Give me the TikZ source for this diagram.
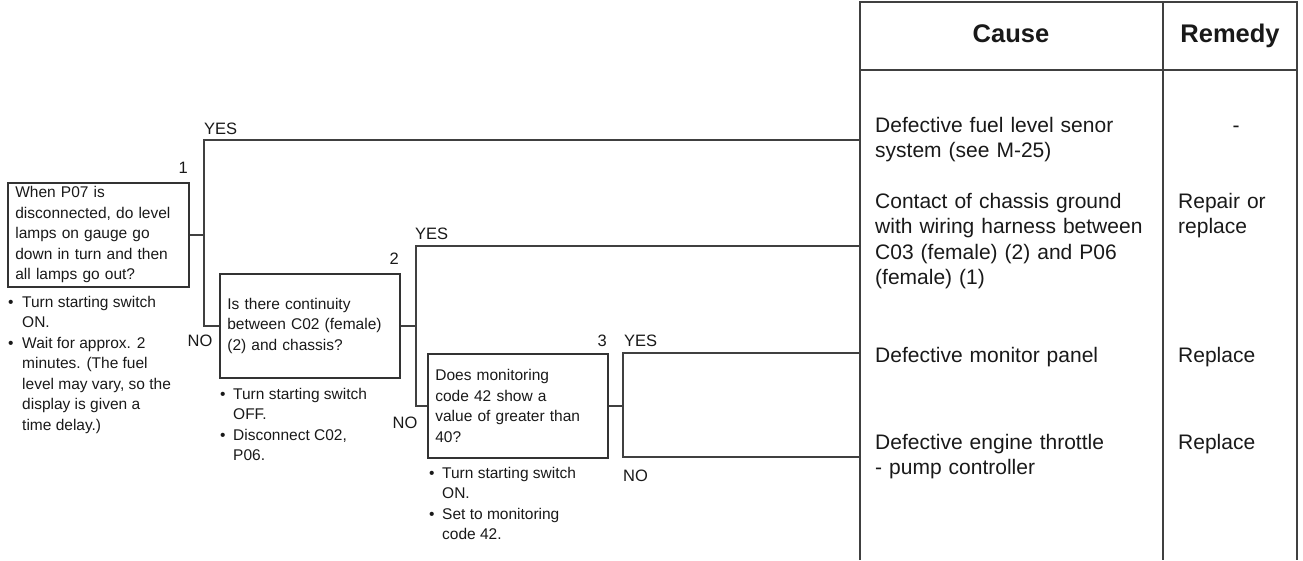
\documentclass[tikz,border=0pt]{standalone}
\usepackage{fontspec}
\setmainfont{Liberation Sans}
\usetikzlibrary{calc}
\begin{document}
\begin{tikzpicture}[x=1pt,y=-1pt,
  ln/.style={draw=black!75, line width=1.7pt},
  qbox/.style={draw=black!80, line width=1.7pt, rectangle, anchor=north west,
    inner xsep=7.5pt, inner ysep=0pt, minimum height=104pt, align=left,
    font=\fontsize{15.5}{20.5}\selectfont, text=black!90},
  blist/.style={anchor=base west, inner sep=0pt, font=\fontsize{15.5}{20.5}\selectfont, text=black!90},
  lbl/.style={inner sep=0pt, font=\fontsize{16.5}{19}\selectfont, text=black!90},
  cell/.style={anchor=base west, inner sep=0pt, align=left, text width=285pt,
    font=\fontsize{21}{25.5}\selectfont, text=black!90},
  rcell/.style={anchor=base west, inner sep=0pt, align=left, text width=110pt,
    font=\fontsize{21}{25.5}\selectfont, text=black!90},
  head/.style={anchor=base, inner sep=0pt, font=\fontsize{25.5}{28}\selectfont\bfseries, text=black!90}
]
\useasboundingbox (0,0) rectangle (1303,560);

% table frame
\coordinate (tl) at (860,2);
\coordinate (tr) at (1297,2);
\coordinate (bl) at (860,560);
\coordinate (br) at (1297,560);
\coordinate (mt) at (1163,2);
\coordinate (mb) at (1163,560);
\coordinate (hl) at (860,70);
\coordinate (hr) at (1297,70);
\draw[ln] (bl) -- (tl) -- (tr) -- (br);
\draw[ln] (mt) -- (mb);
\draw[ln] (hl) -- (hr);

\node[head] (hcause) at (1011,42) {Cause};
\node[head] (hremedy) at (1230,42) {Remedy};

% table cells
\node[cell] (r1) at (875,132) {Defective fuel level senor\\system (see M-25)};
\node[anchor=base, inner sep=0pt, font=\fontsize{21}{25.5}\selectfont, text=black!90] (m1) at (1236,132) {-};
\node[cell] (r2) at (875,208) {Contact of chassis ground\\with wiring harness between\\C03 (female) (2) and P06\\(female) (1)};
\node[rcell] (m2) at (1178,208) {Repair or\\replace};
\node[cell] (r3) at (875,362) {Defective monitor panel};
\node[rcell] (m3) at (1178,362) {Replace};
\node[cell] (r4) at (875,449) {Defective engine throttle\\- pump controller};
\node[rcell] (m4) at (1178,449) {Replace};

% question boxes
\node[qbox, text width=166pt] (b1) at (7,182) {When P07 is\\disconnected, do level\\lamps on gauge go\\down in turn and then\\all lamps go out?};
\node[qbox, text width=165pt] (b2) at (219,273) {Is there continuity\\between C02 (female)\\(2) and chassis?};
\node[qbox, text width=165pt] (b3) at (427,353) {Does monitoring\\code 42 show a\\value of greater than\\40?};

% bullet lists
\node[blist] (n1) at (8,307) {\begin{tabular}[t]{@{}l@{}l@{}}
\makebox[14pt][l]{•}&Turn starting switch\\ &ON.\\
\makebox[14pt][l]{•}&Wait for approx. 2\\ &minutes. (The fuel\\ &level may vary, so the\\ &display is given a\\ &time delay.)\end{tabular}};
\node[blist] (n2) at (220,399) {\begin{tabular}[t]{@{}l@{}l@{}}
\makebox[13pt][l]{•}&Turn starting switch\\ &OFF.\\
\makebox[13pt][l]{•}&Disconnect C02,\\ &P06.\end{tabular}};
\node[blist] (n3) at (429,478) {\begin{tabular}[t]{@{}l@{}l@{}}
\makebox[13pt][l]{•}&Turn starting switch\\ &ON.\\
\makebox[13pt][l]{•}&Set to monitoring\\ &code 42.\end{tabular}};

% connector anchors
\coordinate (c1) at (860,140);
\coordinate (c2) at (860,246);
\coordinate (c3) at (860,353);
\coordinate (c4) at (860,457);
\coordinate (j1) at (204,0);
\coordinate (j2) at (416,0);
\coordinate (j3) at (623,0);

% connectors
\draw[ln] (b1.east) -- (b1.east -| j1);
\draw[ln] (c1) -- (c1 -| j1) |- (b2.west);
\draw[ln] (b2.east) -- (b2.east -| j2);
\draw[ln] (c2) -- (c2 -| j2) |- (b3.west);
\draw[ln] (b3.east) -- (b3.east -| j3);
\draw[ln] (c3) -- (c3 -| j3) -- (c4 -| j3) -- (c4);

% labels
\node[lbl, anchor=base west] (y1) at (204,134) {YES};
\node[lbl, anchor=base east] (k1) at (188,173) {1};
\node[lbl, anchor=base] (no1) at (200,346) {NO};
\node[lbl, anchor=base west] (y2) at (415,239) {YES};
\node[lbl, anchor=base east] (k2) at (399,264) {2};
\node[lbl, anchor=base] (no2) at (405,428) {NO};
\node[lbl, anchor=base west] (y3) at (624,346) {YES};
\node[lbl, anchor=base east] (k3) at (607,346) {3};
\node[lbl, anchor=base west] (no3) at (623,481) {NO};
\end{tikzpicture}
\end{document}
